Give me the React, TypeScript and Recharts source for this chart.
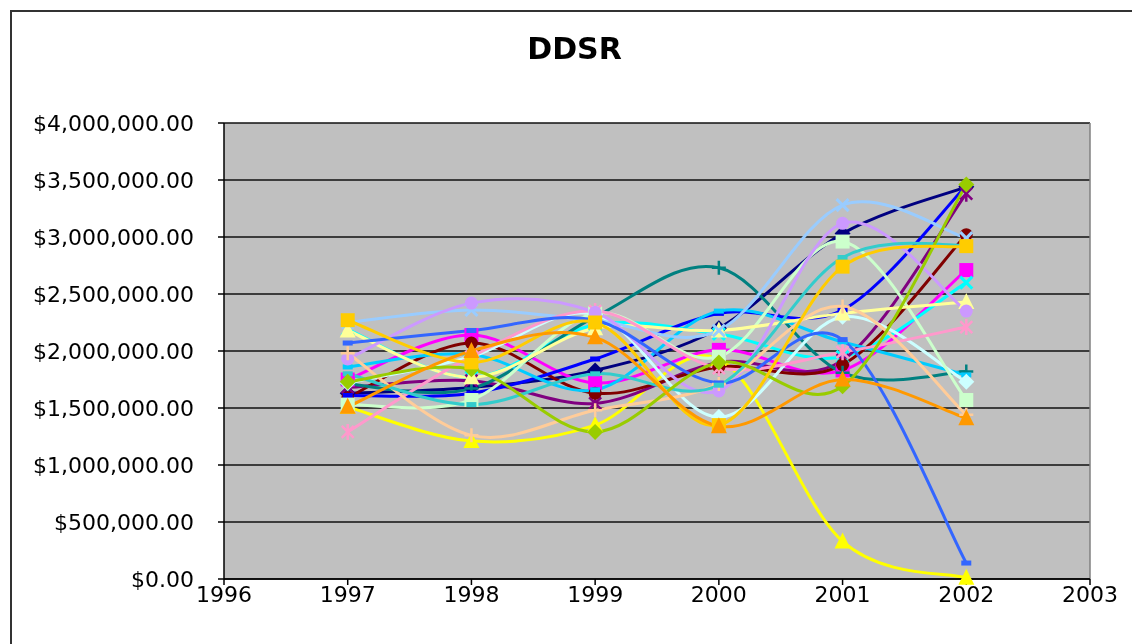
import { LineChart, Line, XAxis, YAxis, CartesianGrid, ReferenceLine } from 'recharts'

const years = [1997, 1998, 1999, 2000, 2001, 2002]
const xTicks = [1996, 1997, 1998, 1999, 2000, 2001, 2002, 2003]
const yTicks = [0, 500000, 1000000, 1500000, 2000000, 2500000, 3000000, 3500000, 4000000]

// values in $M
const navy = [1.63, 1.68, 1.83, 2.2, 3.03, 3.44]
const magenta = [1.75, 2.14, 1.72, 2.01, 1.83, 2.71]
const yellow = [1.51, 1.21, 1.35, 1.93, 0.33, 0.01]
const cyan = [2.19, 1.77, 2.23, 2.15, 1.95, 2.6]
const purple = [1.68, 1.74, 1.54, 1.9, 1.92, 3.38]
const maroon = [1.59, 2.07, 1.63, 1.86, 1.88, 3.02]
const teal = [1.71, 1.67, 2.3, 2.73, 1.81, 1.82]
const blue = [1.61, 1.63, 1.93, 2.33, 2.36, 3.45]
const skyBlue = [1.86, 1.97, 1.66, 2.35, 2.08, 1.79]
const lightTurq = [1.72, 1.95, 2.32, 1.42, 2.3, 1.73]
const lightGreen = [1.53, 1.57, 2.33, 1.95, 2.96, 1.57]
const lightYellow = [2.18, 1.77, 2.2, 2.18, 2.33, 2.43]
const paleBlue = [2.25, 2.36, 2.27, 2.18, 3.28, 2.99]
const rose = [1.29, 1.95, 2.35, 1.85, 1.99, 2.21]
const lavender = [1.93, 2.42, 2.34, 1.65, 3.12, 2.35]
const tan = [1.98, 1.26, 1.48, 1.71, 2.39, 1.44]
const midBlue = [2.07, 2.18, 2.27, 1.72, 2.1, 0.14]
const aqua = [1.8, 1.53, 1.8, 1.7, 2.82, 2.93]
const lime = [1.73, 1.84, 1.29, 1.9, 1.69, 3.46]
const gold = [2.27, 1.9, 2.25, 1.35, 2.74, 2.92]
const orange = [1.51, 2.0, 2.12, 1.34, 1.75, 1.41]

const series = [
  { key: 'navy', vals: navy, color: '#000080', shape: 'diamond' },
  { key: 'magenta', vals: magenta, color: '#FF00FF', shape: 'square' },
  { key: 'yellow', vals: yellow, color: '#FFFF00', shape: 'triangle' },
  { key: 'cyan', vals: cyan, color: '#00FFFF', shape: 'x' },
  { key: 'purple', vals: purple, color: '#800080', shape: 'star' },
  { key: 'maroon', vals: maroon, color: '#800000', shape: 'circle' },
  { key: 'teal', vals: teal, color: '#008080', shape: 'plus' },
  { key: 'blue', vals: blue, color: '#0000FF', shape: 'dash' },
  { key: 'skyBlue', vals: skyBlue, color: '#00CCFF', shape: 'dash' },
  { key: 'lightTurq', vals: lightTurq, color: '#CCFFFF', shape: 'diamond' },
  { key: 'lightGreen', vals: lightGreen, color: '#CCFFCC', shape: 'square' },
  { key: 'lightYellow', vals: lightYellow, color: '#FFFF99', shape: 'triangle' },
  { key: 'paleBlue', vals: paleBlue, color: '#99CCFF', shape: 'x' },
  { key: 'rose', vals: rose, color: '#FF99CC', shape: 'star' },
  { key: 'lavender', vals: lavender, color: '#CC99FF', shape: 'circle' },
  { key: 'tan', vals: tan, color: '#FFCC99', shape: 'plus' },
  { key: 'midBlue', vals: midBlue, color: '#3366FF', shape: 'dash' },
  { key: 'aqua', vals: aqua, color: '#33CCCC', shape: 'dash' },
  { key: 'lime', vals: lime, color: '#99CC00', shape: 'diamond' },
  { key: 'gold', vals: gold, color: '#FFCC00', shape: 'square' },
  { key: 'orange', vals: orange, color: '#FF9900', shape: 'triangle' },
]

const data = years.map((year, i) => {
  const row: Record<string, number> = { year }
  series.forEach((s) => { row[s.key] = s.vals[i] * 1000000 })
  return row
})

// Excel-style smoothing (Catmull-Rom as bezier)
function excelCurve(ctx: any) {
  let pts: number[][] = []
  return {
    areaStart() {},
    areaEnd() {},
    lineStart() { pts = [] },
    point(x: number, y: number) { pts.push([x, y]) },
    lineEnd() {
      const n = pts.length
      if (!n) return
      ctx.moveTo(pts[0][0], pts[0][1])
      for (let i = 0; i < n - 1; i++) {
        const p0 = pts[Math.max(i - 1, 0)], p1 = pts[i], p2 = pts[i + 1], p3 = pts[Math.min(i + 2, n - 1)]
        ctx.bezierCurveTo(
          p1[0] + (p2[0] - p0[0]) / 6, p1[1] + (p2[1] - p0[1]) / 6,
          p2[0] - (p3[0] - p1[0]) / 6, p2[1] - (p3[1] - p1[1]) / 6,
          p2[0], p2[1])
      }
    },
  }
}

function Marker({ cx, cy, shape, color }: { cx: number; cy: number; shape: string; color: string }) {
  if (cx == null || cy == null) return null
  switch (shape) {
    case 'diamond':
      return <polygon points={`${cx},${cy - 8} ${cx + 8},${cy} ${cx},${cy + 8} ${cx - 8},${cy}`} fill={color} />
    case 'square':
      return <rect x={cx - 7} y={cy - 7} width={14} height={14} fill={color} />
    case 'triangle':
      return <polygon points={`${cx},${cy - 9} ${cx + 8},${cy + 7} ${cx - 8},${cy + 7}`} fill={color} />
    case 'x':
      return <path d={`M${cx - 6},${cy - 6}L${cx + 6},${cy + 6}M${cx - 6},${cy + 6}L${cx + 6},${cy - 6}`} stroke={color} strokeWidth={3} />
    case 'star':
      return <path d={`M${cx - 6},${cy - 6}L${cx + 6},${cy + 6}M${cx - 6},${cy + 6}L${cx + 6},${cy - 6}M${cx},${cy - 8}L${cx},${cy + 8}`} stroke={color} strokeWidth={2.5} />
    case 'circle':
      return <circle cx={cx} cy={cy} r={6.5} fill={color} />
    case 'plus':
      return <path d={`M${cx - 7},${cy}L${cx + 7},${cy}M${cx},${cy - 7}L${cx},${cy + 7}`} stroke={color} strokeWidth={2.5} />
    default:
      return <rect x={cx - 5} y={cy - 2.5} width={10} height={5} fill={color} />
  }
}

const money = (v: number) => '$' + v.toLocaleString('en-US', { minimumFractionDigits: 2, maximumFractionDigits: 2 })
const font = '"DejaVu Sans", Verdana, sans-serif'

export default function App() {
  return (
    <div style={{ position: 'relative', width: 1124, height: 620, overflow: 'hidden', fontFamily: font }}>
      <div style={{ position: 'fixed', left: 10, top: 10, width: 1122, height: 2, background: '#333' }} />
      <div style={{ position: 'fixed', left: 10, top: 10, width: 2, height: 634, background: '#333' }} />
      <div style={{ position: 'absolute', left: 0, top: 26, width: 1133, textAlign: 'center', fontSize: 30, lineHeight: '30px', fontWeight: 'bold' }}>DDSR</div>
      <LineChart width={1124} height={620} data={data} margin={{ top: 115, right: 42, left: 0, bottom: 9 }}
        style={{ position: 'absolute', left: 0, top: 0 }}>
        <CartesianGrid vertical={false} fill="#C0C0C0" stroke="#111" strokeWidth={1.5} />
        <XAxis dataKey="year" type="number" domain={[1996, 2003]} ticks={xTicks} height={40}
          stroke="#000" strokeWidth={1.5} tickSize={6} tickMargin={1}
          tick={{ fill: '#000', fontSize: 22, fontFamily: font }} />
        <YAxis domain={[0, 4000000]} ticks={yTicks} width={216} tickFormatter={money}
          stroke="#000" strokeWidth={1.5} tickSize={6} tickMargin={24}
          tick={{ fill: '#000', fontSize: 22, fontFamily: font }} />
        <ReferenceLine x={2003} stroke="#808080" strokeWidth={1.5} />
        {series.map((s) => (
          <Line key={s.key} dataKey={s.key} type={excelCurve as any} stroke={s.color} strokeWidth={3}
            isAnimationActive={false} activeDot={false}
            dot={(p: any) => <Marker key={`${s.key}-${p.index}`} cx={p.cx} cy={p.cy} shape={s.shape} color={s.color} />} />
        ))}
      </LineChart>
    </div>
  )
}
